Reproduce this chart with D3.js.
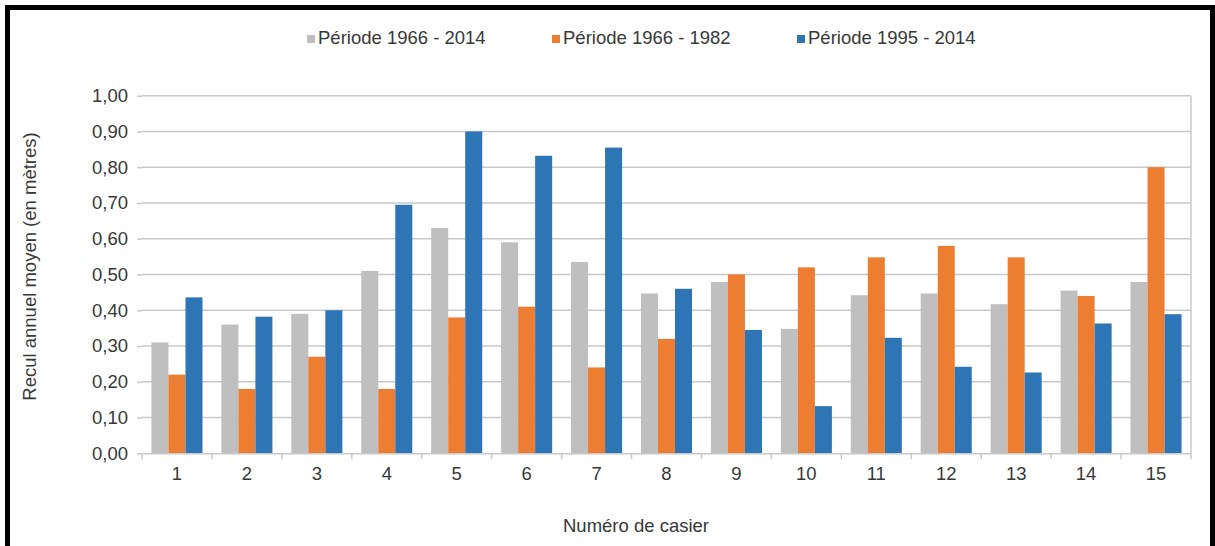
<!DOCTYPE html>
<html>
<head>
<meta charset="utf-8">
<script src="https://cdn.jsdelivr.net/npm/d3@7"></script>
<style>
  html, body { margin: 0; padding: 0; background: #fff; }
  svg { display: block; font-family: "Liberation Sans", Arial, sans-serif; }
</style>
</head>
<body>
<div id="chart"></div>
<script>
const width = 1215;
const height = 546;

// Data
const casiers = ["1", "2", "3", "4", "5", "6", "7", "8", "9", "10", "11", "12", "13", "14", "15"];
const seriesNames = ["Période 1966 - 2014", "Période 1966 - 1982", "Période 1995 - 2014"];
const p1966_2014 = [0.31, 0.36, 0.39, 0.51, 0.63, 0.59, 0.535, 0.447, 0.479, 0.348, 0.442, 0.447, 0.417, 0.455, 0.479];
const p1966_1982 = [0.22, 0.18, 0.27, 0.18, 0.38, 0.41, 0.24, 0.32, 0.50, 0.52, 0.548, 0.58, 0.548, 0.44, 0.80];
const p1995_2014 = [0.436, 0.382, 0.40, 0.695, 0.90, 0.832, 0.855, 0.46, 0.345, 0.132, 0.323, 0.242, 0.226, 0.363, 0.389];
const yTicks = [0, 0.1, 0.2, 0.3, 0.4, 0.5, 0.6, 0.7, 0.8, 0.9, 1.0];

const colors = ["#bfbfbf", "#ed7d31", "#2e75b6"];
const series = [p1966_2014, p1966_1982, p1995_2014];
const textColor = "#383838";
const gridColor = "#c9c9c9";
const fontSize = "18.5px";

const margin = { top: 95.7, right: 1215 - 1191, bottom: 546 - 453.3, left: 142 };
const innerW = width - margin.left - margin.right;
const innerH = height - margin.top - margin.bottom;

const svg = d3.select("#chart").append("svg").attr("width", width).attr("height", height);

svg.append("rect").attr("width", width).attr("height", height).attr("fill", "#fff");

// black frame (bottom is cut off in the reference)
svg.append("path")
  .attr("d", `M7.5,${height} L7.5,7.5 L1212.5,7.5 L1212.5,${height}`)
  .attr("fill", "none")
  .attr("stroke", "#000")
  .attr("stroke-width", 5);

const g = svg.append("g").attr("transform", `translate(${margin.left},${margin.top})`);

const x0 = d3.scaleBand().domain(casiers).range([0, innerW]).paddingInner(0.27).paddingOuter(0.135);
const x1 = d3.scaleBand().domain(d3.range(series.length)).range([0, x0.bandwidth()]);
const y = d3.scaleLinear().domain([0, 1]).range([innerH, 0]);

// gridlines + y labels
const yAxis = g.append("g")
  .call(d3.axisLeft(y).tickValues(yTicks).tickSize(5).tickPadding(9)
    .tickFormat(d => d3.format(".2f")(d).replace(".", ",")));
yAxis.select(".domain").remove();
yAxis.selectAll("line").attr("stroke", gridColor).attr("stroke-width", 1.5);
yAxis.selectAll("text").attr("fill", textColor).style("font-size", fontSize);

g.append("g").selectAll("line")
  .data(yTicks.filter(d => d > 0))
  .join("line")
  .attr("x1", 0).attr("x2", innerW)
  .attr("y1", d => y(d)).attr("y2", d => y(d))
  .attr("stroke", gridColor).attr("stroke-width", 1.5);

// right plot border
g.append("line")
  .attr("x1", innerW).attr("x2", innerW)
  .attr("y1", 0).attr("y2", innerH)
  .attr("stroke", gridColor).attr("stroke-width", 1.5);

// bars
g.append("g").selectAll("g")
  .data(casiers)
  .join("g")
  .attr("transform", d => `translate(${x0(d)},0)`)
  .selectAll("rect")
  .data((d, i) => series.map((s, k) => ({ k, v: s[i] })))
  .join("rect")
  .attr("x", d => x1(d.k))
  .attr("width", x1.bandwidth())
  .attr("y", d => y(d.v))
  .attr("height", d => innerH - y(d.v))
  .attr("fill", d => colors[d.k]);

// x axis
const xAxis = g.append("g").attr("transform", `translate(0,${innerH})`)
  .call(d3.axisBottom(x0).tickSize(0).tickPadding(14));
xAxis.select(".domain").attr("stroke", gridColor).attr("stroke-width", 1.5);
xAxis.selectAll("text").attr("fill", textColor).style("font-size", fontSize);

// tick marks between categories
const step = x0.step();
const boundaries = d3.range(casiers.length + 1).map(i => x0(casiers[0]) - x0.paddingOuter() * step + i * step);
xAxis.append("g").selectAll("line")
  .data(boundaries)
  .join("line")
  .attr("x1", d => d).attr("x2", d => d)
  .attr("y1", 0).attr("y2", 6)
  .attr("stroke", gridColor).attr("stroke-width", 1.5);

// axis titles
svg.append("text")
  .attr("transform", `translate(36,${margin.top + innerH / 2 - 8}) rotate(-90)`)
  .attr("text-anchor", "middle")
  .attr("fill", textColor)
  .style("font-size", fontSize)
  .text("Recul annuel moyen (en mètres)");

svg.append("text")
  .attr("x", 636).attr("y", 532)
  .attr("text-anchor", "middle")
  .attr("fill", textColor)
  .style("font-size", fontSize)
  .text("Numéro de casier");

// legend
const legend = svg.append("g").attr("transform", "translate(307,35)");
const item = legend.selectAll("g")
  .data(seriesNames)
  .join("g")
  .attr("transform", (d, i) => `translate(${i * 245},0)`);
item.append("rect").attr("width", 8).attr("height", 8).attr("fill", (d, i) => colors[i]);
item.append("text")
  .attr("x", 11).attr("y", 9)
  .attr("fill", textColor)
  .style("font-size", fontSize)
  .text(d => d);
</script>
</body>
</html>
